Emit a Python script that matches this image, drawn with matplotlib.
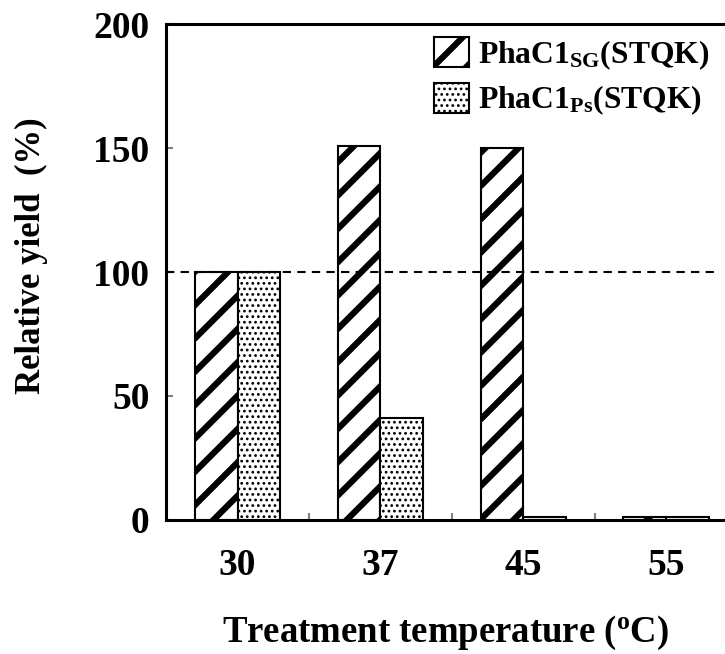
# Relative yield of PhaC1 variants after heat treatment
import numpy as np
import matplotlib as mpl
import matplotlib.pyplot as plt

# data
temps = ["30", "37", "45", "55"]
sgYield = [100, 151, 150, 1]
psYield = [100, 41, 1, 1]
yTicks = [0, 50, 100, 150, 200]

plt.rcParams['font.family'] = ['Liberation Serif', 'DejaVu Serif']
plt.rcParams['font.weight'] = 'bold'
plt.rcParams['mathtext.fontset'] = 'custom'
plt.rcParams['mathtext.rm'] = 'Liberation Serif:bold'
plt.rcParams['mathtext.bf'] = 'Liberation Serif:bold'
plt.rcParams['mathtext.it'] = 'Liberation Serif:bold'
plt.rcParams['hatch.color'] = 'black'

fig = plt.figure(figsize=(7.25, 6.54), dpi=100)
ax = fig.add_axes([0.229, 0.205, 0.771, 0.758])

x = np.arange(len(temps))
w = 0.3

with mpl.rc_context({'hatch.linewidth': 4.5}):
    ax.bar(x - w/2, sgYield, w, color='white', edgecolor='black', linewidth=1.5,
           hatch='/', label='PhaC1$_{\\mathrm{SG}}$(STQK)')
with mpl.rc_context({'hatch.linewidth': 1.2}):
    ax.bar(x + w/2, psYield, w, color='white', edgecolor='black', linewidth=1.5,
           hatch='...', label='PhaC1$_{\\mathrm{Ps}}$(STQK)')

ax.axhline(100, color='black', linestyle=(0, (4, 3)), linewidth=1.5, xmax=0.99)

ax.set_xlim(-0.5, 3.41)
ax.set_ylim(0, 200)
ax.set_yticks(yTicks)
ax.set_xticks(x)
ax.set_xticklabels(temps)
ax.set_xticks([0.5, 1.5, 2.5], minor=True)
ax.tick_params(axis='x', which='major', length=0, labelsize=27, pad=20)
ax.tick_params(axis='x', which='minor', direction='in', length=5, color='grey', width=1.5)
ax.tick_params(axis='y', direction='in', length=5, color='grey', width=1.5, labelsize=27, pad=12)

for s in ['left', 'bottom', 'top']:
    ax.spines[s].set_linewidth(2.2)
ax.spines['right'].set_visible(False)

ax.set_ylabel('Relative yield  (%)', fontsize=25, fontweight='bold')
ax.yaxis.set_label_coords(-0.212, 0.534)
ax.set_xlabel('Treatment temperature ($^{\\mathrm{o}}$C)', fontsize=26.5, fontweight='bold')
ax.xaxis.set_label_coords(0.5, -0.19)

leg = ax.legend(loc='upper right', frameon=False, fontsize=22.8, handlelength=1.1, handleheight=1.1,
                handletextpad=0.3, labelspacing=0.35, borderaxespad=0.0, bbox_to_anchor=(0.995, 1.0))
lw = [4.5, 1.2]
for p, l in zip(leg.get_patches(), lw):
    if hasattr(p, 'set_hatch_linewidth'):
        p.set_hatch_linewidth(l)

fig.savefig('out.png', dpi=100)
